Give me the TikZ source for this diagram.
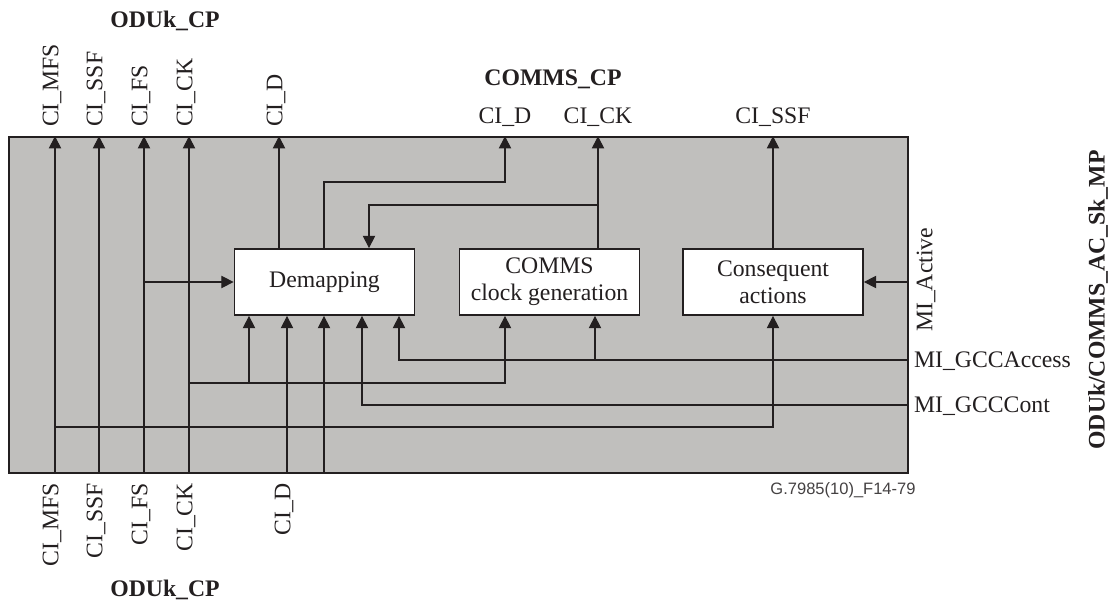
\documentclass[tikz,border=0pt]{standalone}
\usepackage{fontspec}
\setmainfont{Liberation Serif}
\newfontfamily\codefont{Liberation Sans}
\usetikzlibrary{arrows.meta, positioning}
\definecolor{framegray}{RGB}{192,191,189}
\definecolor{wireblack}{RGB}{35,31,32}

\begin{document}
\begin{tikzpicture}[
    x=0.02cm, y=-0.02cm,
    frame/.style={rectangle, draw=wireblack, line width=1pt, fill=framegray, minimum width=17.98cm, minimum height=6.72cm, inner sep=0pt},
    block/.style={rectangle, draw=wireblack, line width=1pt, fill=white, minimum width=3.6cm, minimum height=1.32cm, align=center, inner sep=1pt, text=wireblack, font=\fontsize{13.5}{15.5}\selectfont},
    vlab/.style={rotate=90, inner sep=1pt, text=wireblack, font=\fontsize{13.5}{15.5}\selectfont},
    hlab/.style={inner sep=1pt, text=wireblack, font=\fontsize{13.5}{15.5}\selectfont},
    title/.style={inner sep=1pt, text=wireblack, font=\fontsize{13.5}{15.5}\selectfont\bfseries},
    wire/.style={draw=wireblack, line width=0.6pt},
    arrow/.style={wire, -{Triangle[length=7pt, width=7pt]}}
]
\useasboundingbox (0,0) rectangle (1110,604);

% Atomic function frame
\node[frame] (frame) at (458.5,305) {};

% Processes
\node[block] (demap) at (324.5,282) {Demapping};
\node[block] (clkgen) at (549.5,282) {COMMS\\clock generation};
\node[block] (conseq) at (773,282) {Consequent\\actions};

% Signal columns and rows
\foreach \nm/\x in {mfs/55, ssf/99, fs/144, ck/189, dt/279, db/287, dc/324, dk/369, gc/362, ga/399, b1/249, cd/505, cc/598, ca/595}
    \coordinate (x-\nm) at (\x,0);
\foreach \nm/\y in {mfs/427, ck/383, acc/360, cont/405, d/182, k/205}
    \coordinate (r-\nm) at (0,\y);

% ODUk_CP through signals
\foreach \nm in {mfs, ssf, fs, ck}
    \draw[arrow] (frame.south -| x-\nm) -- (frame.north -| x-\nm);

% Branches
\draw[arrow] (x-mfs |- r-mfs) -| (conseq.south);
\draw[arrow] (x-fs |- demap.west) -- (demap.west);
\draw[arrow] (x-ck |- r-ck) -| (clkgen.south -| x-cd);
\draw[arrow] (x-b1 |- r-ck) -- (demap.south -| x-b1);

% Data into demapping
\draw[arrow] (frame.south -| x-db) -- (demap.south -| x-db);
\draw[arrow] (frame.south -| x-dc) -- (demap.south -| x-dc);

% Outputs
\draw[arrow] (demap.north -| x-dt) -- (frame.north -| x-dt);
\draw[arrow] (demap.north -| x-dc) |- (x-cd |- r-d) -- (frame.north -| x-cd);
\draw[arrow] (clkgen.north -| x-cc) -- (frame.north -| x-cc);
\draw[arrow] (x-cc |- r-k) -| (demap.north -| x-dk);
\draw[arrow] (conseq.north) -- (frame.north -| conseq.north);

% Management inputs
\draw[arrow] (frame.east |- conseq.east) -- (conseq.east);
\draw[arrow] (frame.east |- r-acc) -| (demap.south -| x-ga);
\draw[arrow] (x-ca |- r-acc) -- (clkgen.south -| x-ca);
\draw[arrow] (frame.east |- r-cont) -| (demap.south -| x-gc);

% Port labels
\foreach \nm/\x/\txt in {mfs/52/CI\_MFS, ssf/96/CI\_SSF, fs/141/CI\_FS, ck/186/CI\_CK, dt/276/CI\_D}
    \node[vlab, anchor=west] (lt-\nm) at (\x,129) {\txt};
\foreach \nm/\x/\txt in {mfs/52/CI\_MFS, ssf/96/CI\_SSF, fs/141/CI\_FS, ck/186/CI\_CK, db/284/CI\_D}
    \node[vlab, anchor=east] (lb-\nm) at (\x,481) {\txt};
\foreach \nm/\x/\txt in {cd/505/CI\_D, cc/598/CI\_CK, cs/773/CI\_SSF}
    \node[hlab, anchor=base] (lc-\nm) at (\x,124) {\txt};
\node[vlab, anchor=west] (l-act) at (926,334) {MI\_Active};
\node[hlab, anchor=west] (l-acc) at (912,361) {MI\_GCCAccess};
\node[hlab, anchor=west] (l-cont) at (912,406) {MI\_GCCCont};

% Reference points
\node[title, anchor=base] (cp-top) at (165,28) {ODUk\_CP};
\node[title, anchor=base] (cp-bot) at (165,597) {ODUk\_CP};
\node[title, anchor=base] (cp-comms) at (553,86) {COMMS\_CP};
\node[title, rotate=90] (mp) at (1098,300) {ODUk/COMMS\_AC\_Sk\_MP};

% Figure code
\node[inner sep=1pt, text=wireblack!85, font=\codefont\fontsize{9.4}{11}\selectfont] (figcode) at (843,490) {G.7985(10)\_F14-79};

\end{tikzpicture}
\end{document}
